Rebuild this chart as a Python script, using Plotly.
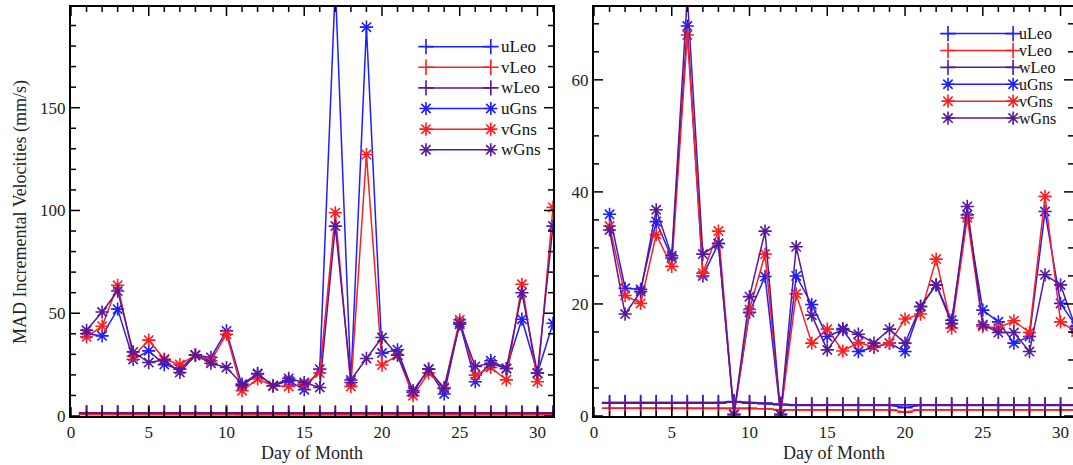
import plotly.graph_objects as go

# ---------------- data ----------------
days = list(range(1, 32))
names = ["uLeo", "vLeo", "wLeo", "uGns", "vGns", "wGns"]

# Left panel
uLeo_L = [1.4, 1.4, 1.4, 1.4, 1.4, 1.4, 1.4, 1.4, 1.4, 1.4, 1.3, 1.3, 1.3, 1.3, 1.3, 1.3,
          1.3, 1.3, 1.4, 1.3, 1.3, 1.3, 1.3, 1.3, 1.3, 1.3, 1.3, 1.3, 1.3, 1.3, 1.3]
vLeo_L = [0.7, 0.7, 0.7, 0.7, 0.7, 0.7, 0.7, 0.7, 0.7, 0.7, 0.6, 0.6, 0.6, 0.6, 0.6, 0.6,
          0.6, 0.6, 0.7, 0.6, 0.6, 0.6, 0.6, 0.6, 0.6, 0.6, 0.6, 0.6, 0.6, 0.6, 0.6]
wLeo_L = [1.6, 1.6, 1.6, 1.6, 1.6, 1.6, 1.6, 1.6, 1.6, 1.6, 1.5, 1.5, 1.5, 1.5, 1.5, 1.5,
          1.5, 1.5, 1.6, 1.5, 1.5, 1.5, 1.5, 1.5, 1.5, 1.5, 1.5, 1.5, 1.5, 1.5, 1.5]
uGns_L = [40, 39, 52, 27.5, 31.7, 25, 22.8, 29.6, 28.5, 41.4, 14.7, 20.4, 14.7, 17.1, 12.8, 22.8,
          210, 16.3, 189.2, 30.6, 32.2, 11.5, 22.8, 10.7, 45.5, 16.7, 26.9, 23.1, 47.1, 20.9, 45.1]
vGns_L = [38.5, 43.7, 63.6, 29, 36.9, 27.7, 25, 29.6, 26.9, 39.8, 12.3, 18, 14.7, 14.4, 15.5, 20.9,
          98.9, 14.4, 127.2, 24.8, 29.6, 9.9, 20.9, 13.9, 46.8, 19.9, 23.6, 17.6, 64.1, 16.7, 101.5]
wGns_L = [41.7, 50.6, 60.8, 31.2, 26, 27.3, 21.2, 29.6, 25.7, 23.6, 15.5, 20.7, 14.7, 18.3, 16.3, 13.9,
          92.4, 17.5, 28, 38.2, 29.6, 12.3, 22.8, 13.4, 44.7, 24.1, 25.6, 23.1, 60, 20.9, 92.4]

# Right panel
uLeo_R = [2.3, 2.3, 2.3, 2.3, 2.3, 2.3, 2.3, 2.3, 2.5, 2.3, 2.2, 2.0, 1.9, 1.9, 1.9, 1.9,
          1.9, 1.9, 1.9, 1.5, 1.9, 1.9, 1.9, 1.9, 1.9, 1.9, 1.9, 1.9, 1.9, 1.9, 1.9]
vLeo_R = [1.4, 1.4, 1.4, 1.4, 1.4, 1.4, 1.4, 1.4, 1.4, 1.4, 1.3, 1.1, 1.1, 1.1, 1.1, 1.1,
          1.1, 1.1, 1.1, 0.7, 1.1, 1.1, 1.1, 1.1, 1.1, 1.1, 1.1, 1.1, 1.1, 1.1, 1.1]
wLeo_R = [2.4, 2.4, 2.4, 2.4, 2.4, 2.4, 2.4, 2.4, 2.6, 2.4, 2.3, 2.1, 2.0, 2.0, 2.0, 2.0,
          2.0, 2.0, 2.0, 2.0, 2.0, 2.0, 2.0, 2.0, 2.0, 2.0, 2.0, 2.0, 2.0, 2.0, 2.0]
uGns_R = [36, 22.8, 22.6, 34.7, 28.2, 69.6, 25, 30.8, 0.3, 18.5, 24.9, 0.3, 25, 19.9, 14.2, 15.4,
          11.5, 12.3, 13, 11.5, 19.5, 23.4, 17.1, 35.9, 18.9, 16.8, 13, 14.2, 36.5, 20.1, 16]
vGns_R = [33.9, 21.5, 20.1, 32.4, 26.7, 68, 25.5, 33, 0.3, 19, 28.9, 0.3, 21.8, 13, 15.5, 11.6,
          13.1, 12.3, 13, 17.3, 18.2, 28, 15.7, 35.4, 16, 15.7, 17, 14.9, 39.2, 16.8, 15]
wGns_R = [33.2, 18.2, 22.2, 36.8, 28.6, 75, 28.9, 30.8, 0.2, 21.3, 33, 0.2, 30.2, 18, 11.8, 15.6,
          14.6, 13, 15.5, 13, 19.6, 23.4, 16.5, 37.4, 16.3, 14.9, 14.9, 11.5, 25.2, 23.4, 15.5]

x_title = "Day of Month"
y_title = "MAD Incremental Velocities (mm/s)"

# ---------------- styles ----------------
BLUE = "#1e1eff"
RED = "#ff1e1e"
PURPLE = "#56189e"
colors = [BLUE, RED, PURPLE, BLUE, RED, PURPLE]
symbols = ["cross-thin-open"] * 3 + ["asterisk-open"] * 3
FONT = "Liberation Serif, Times New Roman, serif"

W, H = 1073, 465
ML, MR, MT, MB = 71, 0, 7, 49
PLOT_W = W - ML - MR
PLOT_H = H - MT - MB

XR_L, YR_L = [0, 31], [0, 199]
XR_R, YR_R = [0, 30.8], [0, 73]

left_series = [uLeo_L, vLeo_L, wLeo_L, uGns_L, vGns_L, wGns_L]
right_series = [uLeo_R, vLeo_R, wLeo_R, uGns_R, vGns_R, wGns_R]

fig = go.Figure()


def add_series(data, xa, ya):
    for nm, vals, col, sym in zip(names, data, colors, symbols):
        fig.add_trace(go.Scatter(
            x=days, y=vals, name=nm, xaxis=xa, yaxis=ya, mode="lines+markers",
            line=dict(color=col, width=1.5),
            marker=dict(symbol=sym, size=11, color=col, line=dict(color=col, width=1.6)),
            showlegend=False))


add_series(left_series, "x", "y")
add_series(right_series, "x2", "y2")


# custom legends (IDL style: line with symbol at both ends), placed by panel fraction
def add_legend(xa, ya, xr, yr, fx0, fx1, fxt, ftop, fstep, fsize):
    def fx(f):
        return xr[0] + f * (xr[1] - xr[0])

    def fy(f):
        return yr[0] + f * (yr[1] - yr[0])

    for i, (nm, col, sym) in enumerate(zip(names, colors, symbols)):
        yy = fy(ftop - i * fstep)
        fig.add_trace(go.Scatter(
            x=[fx(fx0), fx(fx1)], y=[yy, yy], xaxis=xa, yaxis=ya, mode="lines+markers",
            line=dict(color=col, width=1.5),
            marker=dict(symbol=sym, size=11, color=col, line=dict(color=col, width=1.6)),
            showlegend=False, hoverinfo="skip"))
        fig.add_annotation(x=fx(fxt), y=yy, xref=xa, yref=ya, text=nm, showarrow=False,
                           xanchor="left", yanchor="middle",
                           font=dict(family=FONT, size=fsize, color="#111"))


add_legend("x", "y", XR_L, YR_L, 0.7365, 0.871, 0.888, 0.903, 0.0504, 17)
add_legend("x2", "y2", XR_R, YR_R, 0.739, 0.875, 0.884, 0.935, 0.0413, 16)

dom_left = [0, (553 - ML) / PLOT_W]
dom_right = [(594 - ML) / PLOT_W, 1.0]


# IDL-style inside ticks on all four sides, drawn as one line trace per panel
def add_ticks(xa, ya, xr, yr, dom, xminor, xmajor, yminor, ymajor):
    pw = (dom[1] - dom[0]) * PLOT_W
    xpp = (xr[1] - xr[0]) / pw          # x units per pixel
    ypp = (yr[1] - yr[0]) / PLOT_H      # y units per pixel
    xs, ys = [], []
    k = 0
    while xr[0] + k * xminor <= xr[1] + 1e-9:
        v = xr[0] + k * xminor
        L = 9 if k % round(xmajor / xminor) == 0 else 5
        xs += [v, v, None, v, v, None]
        ys += [yr[0], yr[0] + L * ypp, None, yr[1], yr[1] - L * ypp, None]
        k += 1
    k = 0
    while yr[0] + k * yminor <= yr[1] + 1e-9:
        v = yr[0] + k * yminor
        L = 9 if k % round(ymajor / yminor) == 0 else 5
        xs += [xr[0], xr[0] + L * xpp, None, xr[1], xr[1] - L * xpp, None]
        ys += [v, v, None, v, v, None]
        k += 1
    fig.add_trace(go.Scatter(x=xs, y=ys, xaxis=xa, yaxis=ya, mode="lines",
                             line=dict(color="black", width=1.5), connectgaps=False,
                             hoverinfo="skip", showlegend=False))


add_ticks("x", "y", XR_L, YR_L, dom_left, 1, 5, 10, 50)
add_ticks("x2", "y2", XR_R, YR_R, dom_right, 1, 5, 5, 20)

axis_common = dict(
    showline=True, linecolor="black", linewidth=2, mirror=True,
    ticks="", showgrid=False, zeroline=False,
    tickfont=dict(family=FONT, size=17, color="#222"),
)

fig.update_layout(
    width=W, height=H, template="none",
    margin=dict(l=ML, r=MR, t=MT, b=MB),
    paper_bgcolor="white", plot_bgcolor="white",
    showlegend=False,
    xaxis=dict(domain=dom_left, range=XR_L, dtick=5, anchor="y", **axis_common),
    yaxis=dict(domain=[0, 1], range=YR_L, dtick=50, anchor="x", **axis_common),
    xaxis2=dict(domain=dom_right, range=XR_R, dtick=5, anchor="y2", **axis_common),
    yaxis2=dict(domain=[0, 1], range=YR_R, dtick=20, anchor="x2", **axis_common),
)

# axis titles
fig.add_annotation(text=x_title, xref="paper", yref="paper",
                   x=(312 - ML) / PLOT_W, y=-(453 - (H - MB)) / PLOT_H,
                   showarrow=False, xanchor="center", yanchor="middle",
                   font=dict(family=FONT, size=18, color="#222"))
fig.add_annotation(text=x_title, xref="paper", yref="paper",
                   x=(834 - ML) / PLOT_W, y=-(453 - (H - MB)) / PLOT_H,
                   showarrow=False, xanchor="center", yanchor="middle",
                   font=dict(family=FONT, size=18, color="#222"))
fig.add_annotation(text=y_title, xref="paper", yref="paper",
                   x=(21 - ML) / PLOT_W, y=((H - MB) - 212) / PLOT_H,
                   showarrow=False, xanchor="center", yanchor="middle", textangle=-90,
                   font=dict(family=FONT, size=18, color="#222"))

fig.write_html("out.html", config={"displayModeBar": False},
               post_script="document.body.style.margin='0px';document.body.style.overflow='hidden';")
